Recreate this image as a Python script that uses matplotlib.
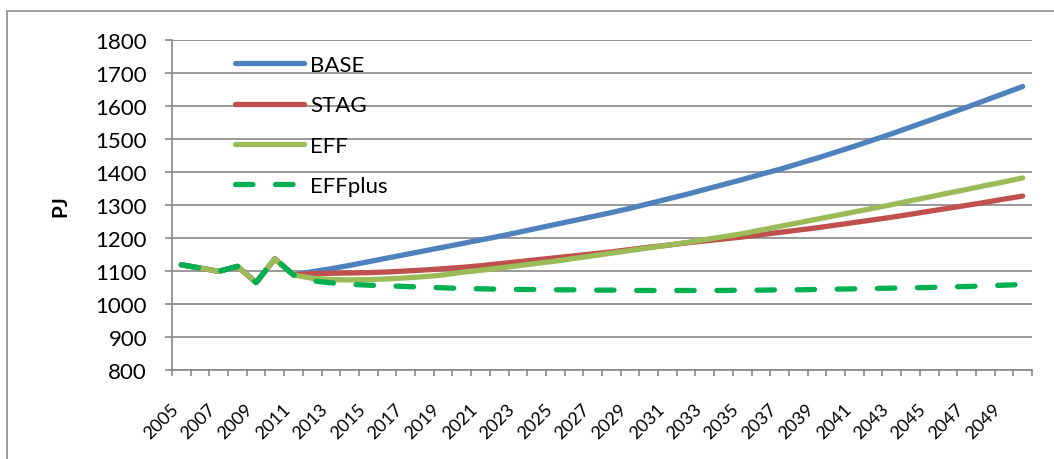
import matplotlib
matplotlib.use("Agg")
import matplotlib.pyplot as plt
from matplotlib.patches import Rectangle
import numpy as np

years = list(range(2005, 2051))
history = [1119, 1109, 1099, 1114, 1065, 1137, 1088]

base = history + [1098, 1107, 1117, 1128, 1139, 1150, 1161, 1172, 1183,
                  1194, 1205, 1217, 1229, 1241, 1253, 1265, 1277, 1290, 1304,
                  1318, 1332, 1347, 1362, 1377, 1393, 1408, 1425, 1442, 1460,
                  1478, 1497, 1516, 1536, 1556, 1576, 1596, 1617, 1638, 1659]
stag = history + [1092, 1093, 1094, 1095, 1097, 1100, 1103, 1107, 1111,
                  1116, 1122, 1128, 1134, 1140, 1146, 1152, 1158, 1165, 1172,
                  1178, 1185, 1191, 1197, 1203, 1210, 1217, 1224, 1231, 1239,
                  1247, 1255, 1263, 1272, 1281, 1290, 1299, 1308, 1318, 1327]
eff = history + [1078, 1074, 1073, 1074, 1076, 1079, 1083, 1088, 1096,
                 1102, 1109, 1116, 1123, 1130, 1138, 1146, 1154, 1162, 1170,
                 1178, 1186, 1195, 1204, 1213, 1224, 1235, 1246, 1257, 1268,
                 1279, 1290, 1301, 1313, 1324, 1336, 1347, 1359, 1370, 1382]
effplus = history + [1070, 1064, 1060, 1057, 1055, 1053, 1051, 1049, 1047,
                     1046, 1045, 1044, 1044, 1043, 1043, 1042, 1042, 1041, 1041,
                     1041, 1041, 1041, 1041, 1042, 1042, 1043, 1043, 1044, 1045,
                     1046, 1047, 1048, 1049, 1050, 1052, 1053, 1055, 1057, 1059]

series_names = ["BASE", "STAG", "EFF", "EFFplus"]
yticks = list(range(800, 1801, 100))
xlabels = [str(y) for y in years[::2]]

plt.rcParams['font.family'] = ['Lato', 'DejaVu Sans']

W, H = 1054, 460
fig = plt.figure(figsize=(W / 100, H / 100), dpi=100)

# outer chart frame (extends beyond the picture on the right and bottom)
fig.patches.append(Rectangle((7 / W, -0.1), 1.2, 1 - 12 / H + 0.1,
                             transform=fig.transFigure, fill=False,
                             edgecolor='#8c8c8c', linewidth=1.2))

ax = fig.add_axes([172 / W, 1 - 371 / H, 860 / W, 330 / H])
x = np.arange(len(years))

grid_c = '#878787'
for v in yticks:
    ax.axhline(v, color=grid_c, lw=1.2, zorder=1)

lw = 3.8
ax.plot(x, base, color='#4F81BD', lw=lw, solid_capstyle='round', label=series_names[0], zorder=3)
ax.plot(x, stag, color='#C0504D', lw=lw, solid_capstyle='round', label=series_names[1], zorder=3)
ax.plot(x, eff, color='#9BBB59', lw=lw, solid_capstyle='round', label=series_names[2], zorder=3)
ax.plot(x, effplus, color='#00B050', lw=lw, dashes=(3.3, 4.3),
        dash_capstyle='round', label=series_names[3], zorder=4)

ax.set_xlim(-0.5, len(years) - 0.5)
ax.set_ylim(800, 1800)
ax.set_yticks(yticks)
ax.set_yticklabels([str(v) for v in yticks], fontsize=16)
ax.tick_params(axis='y', length=5, width=1.2, color=grid_c, pad=13)

ax.set_xticks(np.arange(-0.5, len(years), 1.0))
ax.set_xticklabels([])
ax.tick_params(axis='x', which='major', length=4, width=1.2, color=grid_c)
ax.set_xticks(x[::2], minor=True)
ax.set_xticklabels(xlabels, minor=True, rotation=45, ha='right',
                   rotation_mode='default', fontsize=13)
ax.tick_params(axis='x', which='minor', length=0, pad=22)

for s in ['top', 'right']:
    ax.spines[s].set_visible(False)
for s in ['left', 'bottom']:
    ax.spines[s].set_color(grid_c)
    ax.spines[s].set_linewidth(1.2)

ax.set_ylabel('PJ', fontsize=15, fontweight='bold', labelpad=18)

leg = ax.legend(loc='upper left', bbox_to_anchor=(0.073, 0.955), frameon=False,
                fontsize=16, handlelength=3.1, handletextpad=0.3,
                labelspacing=0.92, borderpad=0, borderaxespad=0)

fig.savefig('out.png', dpi=100)
